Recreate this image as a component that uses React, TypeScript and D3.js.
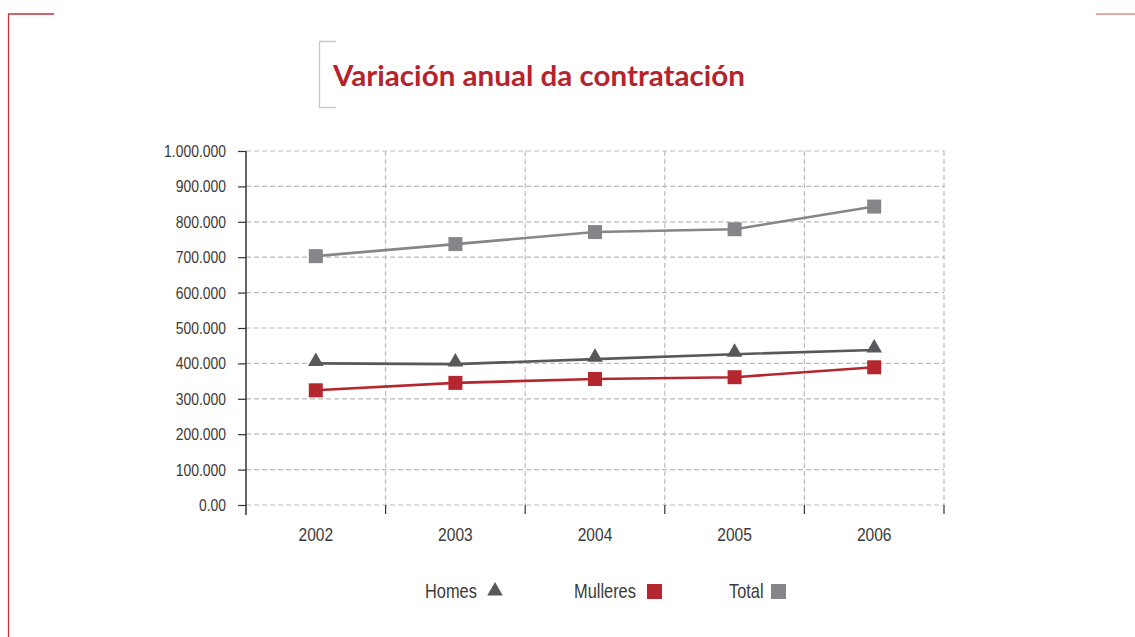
import React, { useEffect, useRef } from 'react';
import * as d3 from 'd3';

const width = 1135;
const height = 637;
const margin = { top: 151, right: 191, bottom: 132, left: 246 };
const red = '#b5272f';
const dark = '#58585a';
const grey = '#86868a';
const font = '"Liberation Sans", Arial, sans-serif';
const squeeze = 0.82; // condensed look for the label font

const years = ['2002', '2003', '2004', '2005', '2006'];
const homes = [400000, 398000, 412000, 426000, 438000];
const mulleres = [324000, 345000, 356000, 361000, 389000];
const total = [703000, 737000, 771000, 779000, 843000];
const yTicks = [0, 100000, 200000, 300000, 400000, 500000, 600000, 700000, 800000, 900000, 1000000];
const yTickLabels = ['0.00', '100.000', '200.000', '300.000', '400.000', '500.000', '600.000', '700.000', '800.000', '900.000', '1.000.000'];

const title = 'Variación anual da contratación';
const legendNames = ['Homes', 'Mulleres', 'Total'];

const xScale = d3.scaleBand().domain(years).range([margin.left, width - margin.right]);
const yScale = d3.scaleLinear().domain([0, 1000000]).range([height - margin.bottom, margin.top]);
const x = (d: string) => (xScale(d) as number) + xScale.bandwidth() / 2;

const line = d3.line<number>()
  .x((d, i) => x(years[i]))
  .y(d => yScale(d));

const tri = d3.symbol().type(d3.symbolTriangle).size(105);

const Narrow = ({ x, y, size, children, anchor = 'start' }: any) => (
  <text transform={`translate(${x},${y}) scale(${squeeze},1)`} fontFamily={font} fontSize={size}
    fill="#3a3a3a" textAnchor={anchor}>{children}</text>
);

function App() {
  const xAxisRef = useRef<SVGGElement>(null);
  const yAxisRef = useRef<SVGGElement>(null);

  useEffect(() => {
    const yAxis = d3.axisLeft(yScale)
      .tickValues(yTicks)
      .tickSize(8)
      .tickPadding(12)
      .tickFormat((d, i) => yTickLabels[i]);
    const ya = d3.select(yAxisRef.current).call(yAxis);
    ya.select('.domain').attr('d', `M0,${margin.top}V${height - margin.bottom + 10}`)
      .attr('stroke', '#333').attr('stroke-width', 1.5);
    ya.selectAll('.tick line').attr('stroke', '#333').attr('stroke-width', 1.2);
    ya.selectAll('.tick text')
      .attr('x', -20 / squeeze)
      .attr('transform', `scale(${squeeze},1)`)
      .attr('fill', '#3a3a3a').style('font-size', '17px').style('font-family', font);

    // ticks on band boundaries, labels in band centres
    const xa = d3.select(xAxisRef.current);
    xa.selectAll('*').remove();
    const edges = years.map(d => (xScale(d) as number) + xScale.bandwidth());
    xa.selectAll('line.edge').data(edges).join('line')
      .attr('class', 'edge')
      .attr('x1', d => d).attr('x2', d => d)
      .attr('y1', 0).attr('y2', 9)
      .attr('stroke', '#333').attr('stroke-width', 1.2);
    xa.selectAll('text').data(years).join('text')
      .attr('transform', d => `translate(${x(d)},36) scale(${squeeze},1)`)
      .attr('text-anchor', 'middle')
      .attr('fill', '#3a3a3a')
      .style('font-size', '19px').style('font-family', font)
      .text(d => d);
  }, []);

  const [x0, x1] = xScale.range();
  const [y0, y1] = yScale.range();
  const squareSize = 14;

  return (
    <div style={{ position: 'absolute', left: 0, top: 0 }}>
      <svg width={width} height={height} style={{ display: 'block', background: '#fff' }}>
        {/* page frame corners */}
        <path d="M54,14H8.5V637" fill="none" stroke="#c4323b" strokeWidth={1.3} />
        <path d="M1096,14H1135" fill="none" stroke="#e48a8a" strokeWidth={1.3} />

        {/* title with bracket */}
        <path d="M336,41.5H319.5V107.5H336" fill="none" stroke="#c8c8c8" strokeWidth={1.3} />
        <text x={333} y={86} fill="#b5232e" fontFamily="Lato, 'Open Sans', sans-serif" fontWeight={700}
          fontSize={29} textLength={412} lengthAdjust="spacingAndGlyphs">{title}</text>

        {/* grid */}
        <g stroke="#bdbdbd" strokeWidth={1.2} strokeDasharray="5,3">
          {yTicks.map(t => (
            <line key={t} x1={x0} x2={x1} y1={yScale(t)} y2={yScale(t)} />
          ))}
          {years.map(d => {
            const e = (xScale(d) as number) + xScale.bandwidth();
            return <line key={d} x1={e} x2={e} y1={y1} y2={y0} />;
          })}
        </g>

        <g ref={xAxisRef} transform={`translate(0, ${y0})`} />
        <g ref={yAxisRef} transform={`translate(${x0}, 0)`} />

        {/* series */}
        <path d={line(total) as string} fill="none" stroke={grey} strokeWidth={2.6} />
        <path d={line(homes) as string} fill="none" stroke={dark} strokeWidth={2.6} />
        <path d={line(mulleres) as string} fill="none" stroke={red} strokeWidth={2.6} />

        {total.map((v, i) => (
          <rect key={'t' + i} x={x(years[i]) - squareSize / 2} y={yScale(v) - squareSize / 2}
            width={squareSize} height={squareSize} fill={grey} />
        ))}
        {mulleres.map((v, i) => (
          <rect key={'m' + i} x={x(years[i]) - squareSize / 2} y={yScale(v) - squareSize / 2}
            width={squareSize} height={squareSize} fill={red} />
        ))}
        {homes.map((v, i) => (
          <path key={'h' + i} d={tri() as string} fill={dark}
            transform={`translate(${x(years[i])}, ${yScale(v) - 2})`} />
        ))}

        {/* legend */}
        <Narrow x={425} y={598} size={20}>{legendNames[0]}</Narrow>
        <path d={tri() as string} fill={dark} transform="translate(495, 591)" />
        <Narrow x={574} y={598} size={20}>{legendNames[1]}</Narrow>
        <rect x={647} y={584} width={15} height={15} fill={red} />
        <Narrow x={729} y={598} size={20}>{legendNames[2]}</Narrow>
        <rect x={771} y={584} width={15} height={15} fill={grey} />
      </svg>
    </div>
  );
}

export default App;
